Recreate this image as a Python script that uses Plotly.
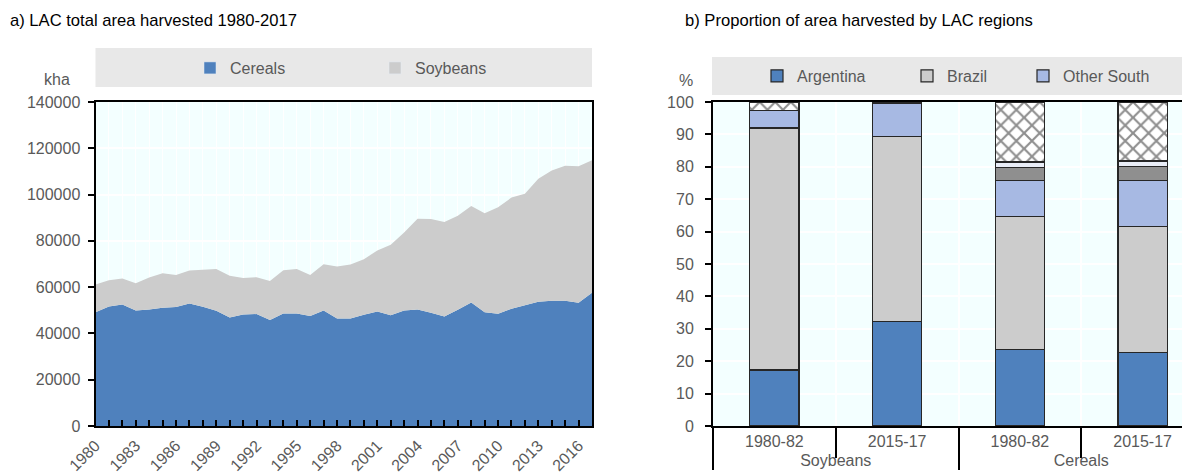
import plotly.graph_objects as go

# the page body has an 8px margin, so the figure is shifted by (8, 8)
OFF = 8
W, H = 1190 - OFF, 476 - OFF

# ---- panel a) data (kha) ----
years = list(range(1980, 2018))
cereals = [49200, 51650, 52500, 49900, 50350, 51100, 51400, 52950, 51500, 49800,
           46900, 48200, 48350, 45750, 48600, 48600, 47500, 49900, 46500, 46500,
           48050, 49500, 47900, 49900, 50350, 48900, 47300, 50200, 53400, 49200,
           48500, 50650, 52200, 53650, 54100, 54100, 53250, 57550]
soybeans = [11950, 11350, 11200, 11800, 13850, 14900, 13900, 14250, 16000, 18000,
            18000, 15700, 15950, 16950, 18700, 19200, 17800, 20000, 22400, 23300,
            24050, 26300, 30400, 33700, 39150, 40500, 40900, 40600, 41700, 42700,
            46000, 48050, 48200, 53150, 56300, 58400, 58950, 57250]

# ---- panel b) data (%) ----
crops = ["Soybeans", "Soybeans", "Cereals", "Cereals"]
periods = ["1980-82", "2015-17", "1980-82", "2015-17"]
argentina = [17.3, 32.2, 23.7, 22.8]
brazil = [74.7, 57.1, 40.9, 38.7]
other_south = [5.4, 10.3, 11.1, 14.2]
mexico = [0.0, 0.0, 4.2, 4.3]
central = [0.0, 0.0, 1.6, 1.8]
rest = [2.6, 0.4, 18.5, 18.2]

BLUE = "#4F81BD"
GREY = "#CCCCCC"
LBLUE = "#A7B9E3"
DGREY = "#8F8F8F"
PALE = "#E9EDF7"
BG = "#F3FFFF"
BAND = "#E8E8E8"
TXT = "#595959"
FONT = "Liberation Sans, Arial, sans-serif"


def px(x):
    # window pixel -> paper fraction
    return (x - OFF) / W


def py(y):
    return 1 - (y - OFF) / H


fig = go.Figure()

# panel a: stacked areas
fig.add_trace(go.Scatter(x=years, y=cereals, name="Cereals", stackgroup="one",
                         mode="none", fillcolor=BLUE, showlegend=False,
                         xaxis="x", yaxis="y"))
fig.add_trace(go.Scatter(x=years, y=soybeans, name="Soybeans", stackgroup="one",
                         mode="none", fillcolor=GREY, showlegend=False,
                         xaxis="x", yaxis="y"))
# legend swatches for the areas
fig.add_trace(go.Bar(x=[None], y=[None], name="Cereals", marker_color=BLUE,
                     xaxis="x", yaxis="y", legend="legend"))
fig.add_trace(go.Bar(x=[None], y=[None], name="Soybeans", marker_color=GREY,
                     xaxis="x", yaxis="y", legend="legend2"))

# panel b: stacked bars
edge = dict(color="#262626", width=1.2)
xcat = [crops, periods]
series = [
    ("Argentina", argentina, BLUE, True, "legend3"),
    ("Brazil", brazil, GREY, True, "legend4"),
    ("Other South", other_south, LBLUE, True, "legend5"),
    ("Mexico", mexico, DGREY, False, None),
    ("Other Central", central, PALE, False, None),
]
for name, vals, col, show, leg in series:
    kw = dict(legend=leg) if leg else {}
    fig.add_trace(go.Bar(x=xcat, y=vals, name=name, marker=dict(color=col, line=edge),
                         showlegend=show, xaxis="x2", yaxis="y2", **kw))
fig.add_trace(go.Bar(x=xcat, y=rest, name="Rest of LAC", showlegend=False,
                     marker=dict(color="white", line=edge,
                                 pattern=dict(shape="x", fgcolor="#1E1E1E", bgcolor="white",
                                              size=11, solidity=0.35)),
                     xaxis="x2", yaxis="y2"))

ticks_font = dict(family=FONT, size=16, color=TXT)
y0, y1 = 102, 426

fig.update_layout(
    width=W, height=H,
    margin=dict(l=0, r=0, t=0, b=0),
    paper_bgcolor="white",
    plot_bgcolor=BG,
    font=dict(family=FONT, size=16, color=TXT),
    barmode="stack",
    bargap=0.6,
    xaxis=dict(
        domain=[px(95.5), px(592)], range=[1980, 2017], anchor="y",
        tick0=1980, dtick=3, ticks="inside", ticklen=6, tickcolor="black", tickwidth=1.5,
        tickangle=-45, tickfont=ticks_font, ticklabelstandoff=2,
        minor=dict(dtick=1, ticks="inside", ticklen=6, tickcolor="black", tickwidth=1.5,
                   showgrid=True, gridcolor="white", gridwidth=1),
        showgrid=True, gridcolor="white", gridwidth=1,
        showline=True, linecolor="black", linewidth=2, mirror=True,
        zeroline=False, automargin=False,
    ),
    yaxis=dict(
        domain=[py(y1), py(y0)], range=[0, 140000], dtick=20000, anchor="x",
        tickformat="d",
        ticks="outside", ticklen=6, tickcolor="black", tickwidth=1.5,
        tickfont=ticks_font, ticklabelstandoff=4,
        showgrid=True, gridcolor="white", gridwidth=1.5,
        showline=True, linecolor="black", linewidth=2, mirror=True,
        zeroline=False, automargin=False,
    ),
    xaxis2=dict(
        domain=[px(713), 1.0], range=[-0.5, 3.386], anchor="y2", type="multicategory",
        ticks="outside", ticklen=30, tickcolor="black", tickwidth=2,
        tickfont=ticks_font,
        showdividers=True, dividercolor="black", dividerwidth=2,
        showgrid=True, gridcolor="white", gridwidth=1.5,
        showline=True, linecolor="black", linewidth=2, mirror=True,
        automargin=False,
    ),
    yaxis2=dict(
        domain=[py(y1), py(y0)], range=[0, 100], dtick=10, anchor="x2",
        ticks="outside", ticklen=6, tickcolor="black", tickwidth=1.5,
        tickfont=ticks_font, ticklabelstandoff=8,
        showgrid=True, gridcolor="white", gridwidth=1.5,
        showline=True, linecolor="black", linewidth=2,
        zeroline=False, automargin=False,
    ),
    shapes=[
        dict(type="rect", xref="paper", yref="paper", layer="below",
             x0=px(95.5), x1=px(592), y0=py(87), y1=py(48),
             fillcolor=BAND, line=dict(width=0)),
        dict(type="rect", xref="paper", yref="paper", layer="below",
             x0=px(712), x1=1.0, y0=py(95), y1=py(57),
             fillcolor=BAND, line=dict(width=0)),
    ],
    annotations=[
        dict(text="a) LAC total area harvested 1980-2017", x=px(8), y=py(20),
             xref="paper", yref="paper", xanchor="left", yanchor="middle",
             showarrow=False, font=dict(family=FONT, size=16.6, color="black")),
        dict(text="b) Proportion of area harvested by LAC regions", x=px(683), y=py(20),
             xref="paper", yref="paper", xanchor="left", yanchor="middle",
             showarrow=False, font=dict(family=FONT, size=16.6, color="black")),
        dict(text="kha", x=px(72), y=py(79), xref="paper", yref="paper",
             xanchor="right", yanchor="middle", showarrow=False, font=ticks_font),
        dict(text="%", x=px(695), y=py(80), xref="paper", yref="paper",
             xanchor="right", yanchor="middle", showarrow=False, font=ticks_font),
    ],
)

leg_common = dict(orientation="h", bgcolor="rgba(0,0,0,0)", yanchor="middle",
                  xanchor="left", font=dict(family=FONT, size=16, color=TXT),
                  itemclick=False, itemdoubleclick=False)
fig.update_layout(
    legend=dict(x=px(210 - 20), y=py(68), **leg_common),
    legend2=dict(x=px(395 - 20), y=py(68), **leg_common),
    legend3=dict(x=px(777 - 20), y=py(76), **leg_common),
    legend4=dict(x=px(927 - 20), y=py(76), **leg_common),
    legend5=dict(x=px(1043 - 20), y=py(76), **leg_common),
)

fig.write_html("out.html")
